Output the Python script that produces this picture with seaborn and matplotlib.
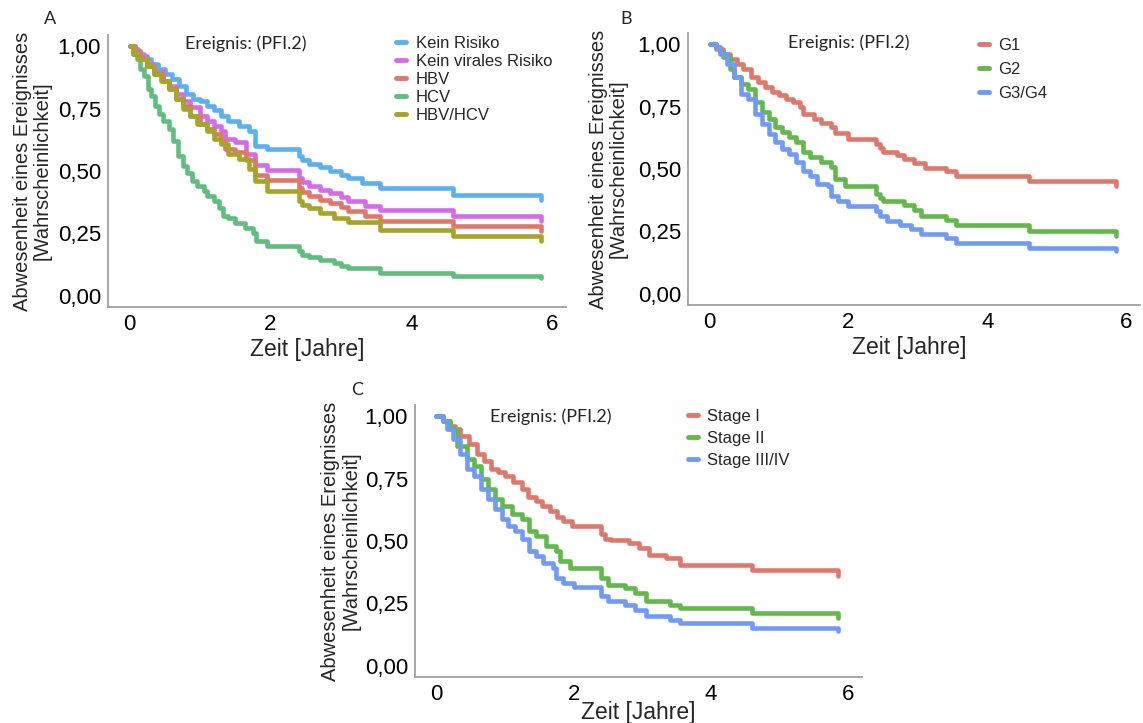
import numpy as np
import pandas as pd
import matplotlib
matplotlib.use("Agg")
import matplotlib.pyplot as plt
import seaborn as sns

# ---------------- data ----------------
# Panel A
A_groups = ["Kein Risiko", "Kein virales Risiko", "HBV", "HCV", "HBV/HCV"]
A_colors = ["#5AB0F0", "#D46BEA", "#E0776B", "#5FBE7E", "#A6A527"]

A_kein_t = [0, 0.05, 0.12, 0.2, 0.3, 0.4, 0.5, 0.6, 0.7, 0.8, 0.9, 1.0, 1.1, 1.2, 1.3, 1.4, 1.55, 1.7, 1.78, 1.95, 2.4, 2.45, 2.55, 2.7, 2.85, 3.0, 3.1, 3.3, 3.55, 4.6, 5.85]
A_kein_s = [1.0, 0.99, 0.97, 0.95, 0.93, 0.91, 0.89, 0.87, 0.84, 0.81, 0.79, 0.78, 0.76, 0.745, 0.72, 0.70, 0.68, 0.66, 0.60, 0.59, 0.56, 0.545, 0.53, 0.515, 0.50, 0.485, 0.47, 0.45, 0.43, 0.405, 0.385]

A_kvr_t = [0, 0.08, 0.15, 0.25, 0.35, 0.47, 0.55, 0.65, 0.75, 0.85, 1.0, 1.1, 1.2, 1.3, 1.35, 1.5, 1.65, 1.78, 1.95, 2.4, 2.45, 2.55, 2.7, 2.85, 3.0, 3.1, 3.35, 3.55, 4.6, 5.85]
A_kvr_s = [1.0, 0.98, 0.96, 0.93, 0.90, 0.86, 0.84, 0.81, 0.78, 0.755, 0.72, 0.70, 0.68, 0.66, 0.63, 0.615, 0.57, 0.525, 0.505, 0.47, 0.455, 0.44, 0.425, 0.41, 0.395, 0.38, 0.36, 0.345, 0.32, 0.30]

A_hbv_t = [0, 0.08, 0.15, 0.25, 0.35, 0.47, 0.55, 0.65, 0.75, 0.85, 1.0, 1.1, 1.2, 1.3, 1.35, 1.5, 1.65, 1.78, 1.95, 2.4, 2.45, 2.55, 2.7, 2.85, 3.0, 3.1, 3.35, 3.55, 4.6, 5.85]
A_hbv_s = [1.0, 0.98, 0.95, 0.92, 0.89, 0.86, 0.83, 0.79, 0.76, 0.72, 0.69, 0.67, 0.65, 0.62, 0.59, 0.575, 0.545, 0.485, 0.465, 0.43, 0.415, 0.40, 0.385, 0.37, 0.355, 0.34, 0.32, 0.30, 0.28, 0.26]

A_hcv_t = [0, 0.05, 0.1, 0.15, 0.2, 0.26, 0.3, 0.36, 0.42, 0.47, 0.55, 0.62, 0.68, 0.75, 0.82, 0.89, 0.95, 1.05, 1.1, 1.2, 1.27, 1.32, 1.4, 1.5, 1.64, 1.75, 1.8, 1.95, 2.4, 2.45, 2.55, 2.7, 2.9, 3.0, 3.1, 3.55, 4.6, 5.85]
A_hcv_s = [1.0, 0.97, 0.95, 0.91, 0.88, 0.83, 0.80, 0.76, 0.73, 0.70, 0.67, 0.62, 0.56, 0.52, 0.49, 0.46, 0.44, 0.42, 0.40, 0.38, 0.35, 0.32, 0.31, 0.29, 0.27, 0.25, 0.22, 0.20, 0.18, 0.165, 0.155, 0.145, 0.13, 0.12, 0.11, 0.09, 0.08, 0.07]

A_hbvhcv_t = [0, 0.05, 0.12, 0.25, 0.35, 0.45, 0.55, 0.65, 0.75, 0.85, 0.95, 1.1, 1.2, 1.3, 1.4, 1.55, 1.7, 1.78, 1.95, 2.4, 2.45, 2.55, 2.7, 2.9, 3.1, 3.55, 4.6, 5.85]
A_hbvhcv_s = [1.0, 0.97, 0.95, 0.92, 0.89, 0.86, 0.83, 0.79, 0.75, 0.72, 0.69, 0.66, 0.63, 0.61, 0.57, 0.55, 0.51, 0.46, 0.42, 0.38, 0.365, 0.35, 0.33, 0.31, 0.295, 0.265, 0.24, 0.22]

# Panel B
B_groups = ["G1", "G2", "G3/G4"]
B_colors = ["#E0776B", "#62B84A", "#6F9BF5"]

B_g1_t = [0, 0.1, 0.2, 0.3, 0.4, 0.48, 0.6, 0.7, 0.8, 0.9, 1.0, 1.1, 1.2, 1.3, 1.35, 1.5, 1.6, 1.75, 1.8, 2.0, 2.4, 2.45, 2.5, 2.7, 2.8, 2.95, 3.1, 3.4, 3.55, 4.6, 5.85]
B_g1_s = [1.0, 0.98, 0.96, 0.94, 0.92, 0.90, 0.87, 0.85, 0.83, 0.81, 0.795, 0.78, 0.77, 0.75, 0.72, 0.70, 0.685, 0.67, 0.645, 0.62, 0.60, 0.585, 0.57, 0.555, 0.54, 0.525, 0.505, 0.49, 0.47, 0.45, 0.43]

B_g2_t = [0, 0.1, 0.15, 0.2, 0.3, 0.35, 0.45, 0.55, 0.65, 0.75, 0.85, 0.95, 1.05, 1.15, 1.25, 1.35, 1.45, 1.6, 1.75, 1.8, 1.95, 2.4, 2.45, 2.5, 2.8, 2.95, 3.05, 3.4, 3.55, 4.6, 5.85]
B_g2_s = [1.0, 0.99, 0.97, 0.95, 0.90, 0.87, 0.84, 0.82, 0.77, 0.73, 0.70, 0.67, 0.65, 0.63, 0.61, 0.57, 0.55, 0.53, 0.51, 0.46, 0.43, 0.40, 0.385, 0.37, 0.355, 0.335, 0.31, 0.295, 0.275, 0.25, 0.23]

B_g34_t = [0, 0.1, 0.15, 0.25, 0.35, 0.45, 0.55, 0.65, 0.75, 0.85, 0.95, 1.05, 1.15, 1.25, 1.35, 1.45, 1.55, 1.7, 1.75, 1.85, 2.0, 2.4, 2.45, 2.55, 2.75, 2.9, 3.05, 3.4, 3.55, 4.6, 5.85]
B_g34_s = [1.0, 0.99, 0.96, 0.92, 0.87, 0.80, 0.78, 0.72, 0.68, 0.64, 0.61, 0.58, 0.56, 0.53, 0.49, 0.47, 0.44, 0.43, 0.39, 0.37, 0.35, 0.33, 0.31, 0.29, 0.275, 0.26, 0.24, 0.225, 0.205, 0.185, 0.17]

# Panel C
C_groups = ["Stage I", "Stage II", "Stage III/IV"]
C_colors = ["#E0776B", "#62B84A", "#6F9BF5"]

C_s1_t = [0, 0.1, 0.2, 0.27, 0.35, 0.48, 0.6, 0.69, 0.8, 0.9, 1.0, 1.12, 1.25, 1.33, 1.45, 1.54, 1.65, 1.76, 1.85, 1.97, 2.4, 2.45, 2.55, 2.8, 2.95, 3.1, 3.35, 3.55, 4.6, 5.85]
C_s1_s = [1.0, 0.98, 0.96, 0.95, 0.92, 0.89, 0.85, 0.82, 0.79, 0.775, 0.76, 0.735, 0.71, 0.675, 0.66, 0.64, 0.62, 0.595, 0.58, 0.56, 0.53, 0.51, 0.505, 0.49, 0.47, 0.445, 0.43, 0.405, 0.385, 0.36]

C_s2_t = [0, 0.1, 0.2, 0.3, 0.45, 0.55, 0.65, 0.75, 0.85, 0.95, 1.1, 1.25, 1.35, 1.45, 1.6, 1.75, 1.8, 1.95, 2.4, 2.5, 2.75, 2.9, 3.05, 3.4, 3.55, 4.6, 5.85]
C_s2_s = [1.0, 0.98, 0.95, 0.88, 0.83, 0.80, 0.75, 0.71, 0.67, 0.64, 0.61, 0.59, 0.54, 0.52, 0.48, 0.46, 0.42, 0.39, 0.35, 0.325, 0.31, 0.29, 0.26, 0.245, 0.23, 0.21, 0.19]

C_s34_t = [0, 0.1, 0.15, 0.25, 0.35, 0.45, 0.55, 0.65, 0.75, 0.85, 0.95, 1.05, 1.15, 1.25, 1.35, 1.45, 1.55, 1.7, 1.75, 1.85, 2.0, 2.4, 2.5, 2.75, 2.9, 3.05, 3.4, 3.55, 4.6, 5.85]
C_s34_s = [1.0, 0.98, 0.95, 0.91, 0.85, 0.79, 0.76, 0.71, 0.67, 0.63, 0.59, 0.56, 0.54, 0.51, 0.46, 0.44, 0.41, 0.39, 0.35, 0.33, 0.315, 0.28, 0.26, 0.245, 0.225, 0.20, 0.185, 0.17, 0.15, 0.14]

x_ticks = [0, 2, 4, 6]
x_ticklabels = ["0", "2", "4", "6"]
y_ticks = [0.0, 0.25, 0.5, 0.75, 1.0]
y_ticklabels = ["0,00", "0,25", "0,50", "0,75", "1,00"]

xlabel = "Zeit [Jahre]"
ylabel = "Abwesenheit eines Ereignisses\n[Wahrscheinlichkeit]"
event_text = "Ereignis: (PFI.2)"


def make_df(groups, series):
    rows = []
    for g, (t, s) in zip(groups, series):
        rows.append(pd.DataFrame({"t": t, "s": s, "group": g}))
    return pd.concat(rows, ignore_index=True)


dfA = make_df(A_groups, [(A_kein_t, A_kein_s), (A_kvr_t, A_kvr_s), (A_hbv_t, A_hbv_s),
                         (A_hcv_t, A_hcv_s), (A_hbvhcv_t, A_hbvhcv_s)])
dfB = make_df(B_groups, [(B_g1_t, B_g1_s), (B_g2_t, B_g2_s), (B_g34_t, B_g34_s)])
dfC = make_df(C_groups, [(C_s1_t, C_s1_s), (C_s2_t, C_s2_s), (C_s34_t, C_s34_s)])

# ---------------- style ----------------
sns.set_style("white")
plt.rcParams["font.family"] = ["Liberation Sans", "DejaVu Sans"]

W, H = 1143, 723
fig = plt.figure(figsize=(W / 100, H / 100), dpi=100)


def px_axes(left, top, right, bottom):
    return fig.add_axes([left / W, 1 - bottom / H, (right - left) / W, (bottom - top) / H])


spine_col = "#A0A0A0"


def draw_panel(ax, df, groups, colors, legend_x, legend_y, labelspacing, event_x, event_y,
               ylab_x, xlab_x, xlab_y):
    sns.lineplot(data=df, x="t", y="s", hue="group", hue_order=groups,
                 palette=colors, estimator=None, drawstyle="steps-post",
                 linewidth=3.3, ax=ax, legend=True)
    ax.set_xlim(-0.31, 6.2)
    ax.set_ylim(-0.045, 1.045)
    ax.set_xticks(x_ticks)
    ax.set_xticklabels(x_ticklabels)
    ax.set_yticks(y_ticks)
    ax.set_yticklabels(y_ticklabels)
    ax.tick_params(axis="both", which="major", labelsize=16, length=3, width=1,
                   color=spine_col, pad=2, labelcolor="black")
    for side in ["top", "right"]:
        ax.spines[side].set_visible(False)
    for side in ["left", "bottom"]:
        ax.spines[side].set_color(spine_col)
        ax.spines[side].set_linewidth(1.3)
    ax.set_xlabel(xlabel, fontsize=16.5)
    ax.set_ylabel(ylabel, fontsize=14.5, linespacing=1.08)
    ax.yaxis.set_label_coords(ylab_x, 0.5)
    ax.xaxis.set_label_coords(xlab_x, xlab_y)
    handles, labels = ax.get_legend_handles_labels()
    leg = ax.legend(handles, labels, loc="upper left", bbox_to_anchor=(legend_x, legend_y),
                    frameon=False, fontsize=12, handlelength=0.6, handletextpad=0.55,
                    labelspacing=labelspacing, borderaxespad=0)
    for h in leg.get_lines():
        h.set_linewidth(3.5)
    ax.text(event_x, event_y, event_text, transform=ax.transAxes, ha="center",
            va="center", fontsize=13, family=["Lato", "DejaVu Sans"])


axA = px_axes(108, 35, 566, 307)
draw_panel(axA, dfA, A_groups, A_colors, 0.615, 1.02, 0.17, 0.30, 0.967, -0.122, 0.435, -0.115)

axB = px_axes(688, 33, 1140, 305)
draw_panel(axB, dfB, B_groups, B_colors, 0.63, 1.005, 0.52, 0.355, 0.963, -0.133, 0.49, -0.115)

axC = px_axes(415, 405, 862, 677)
draw_panel(axC, dfC, C_groups, C_colors, 0.595, 1.01, 0.42, 0.304, 0.956, -0.122, 0.5, -0.09)

fig.text(50 / W, 1 - 19 / H, "A", fontsize=13, ha="center", va="center",
         family=["Lato", "DejaVu Sans"])
fig.text(626 / W, 1 - 19 / H, "B", fontsize=13, ha="center", va="center",
         family=["Lato", "DejaVu Sans"])
fig.text(357 / W, 1 - 390 / H, "C", fontsize=13, ha="center", va="center",
         family=["Lato", "DejaVu Sans"])

fig.savefig("out.png", dpi=100)
